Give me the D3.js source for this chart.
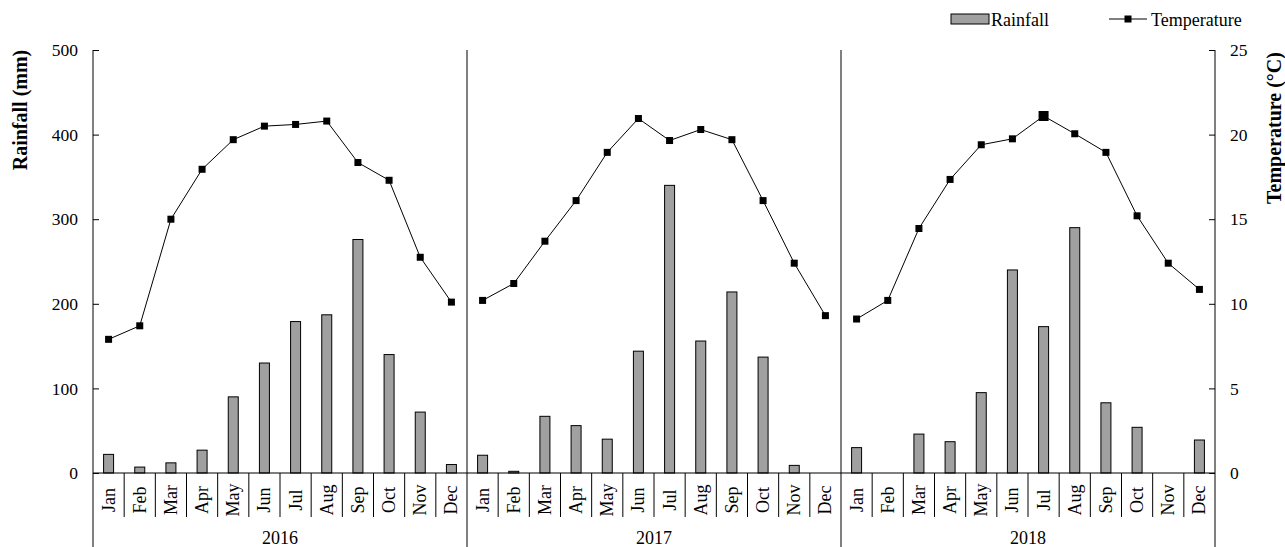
<!DOCTYPE html>
<html>
<head>
<meta charset="utf-8">
<script src="https://cdn.jsdelivr.net/npm/d3@7/dist/d3.min.js"></script>
<style>
  html, body { margin: 0; padding: 0; background: #fff; }
  svg { display: block; font-family: "Liberation Serif", "Times New Roman", serif; }
</style>
</head>
<body>
<svg id="chart" width="1285" height="547"></svg>
<script>
// ---- data ----
const years = ["2016", "2017", "2018"];
const months = ["Jan","Feb","Mar","Apr","May","Jun","Jul","Aug","Sep","Oct","Nov","Dec"];
const rain2016 = [22, 7, 12, 27, 90, 130, 179, 187, 276, 140, 72, 10];
const rain2017 = [21, 2, 67, 56, 40, 144, 340, 156, 214, 137, 9, 0];
const rain2018 = [30, 0, 46, 37, 95, 240, 173, 290, 83, 54, 0, 39];
const temp2016 = [7.9, 8.7, 15.0, 17.95, 19.7, 20.5, 20.6, 20.8, 18.35, 17.3, 12.75, 10.1];
const temp2017 = [10.2, 11.2, 13.7, 16.1, 18.95, 20.95, 19.65, 20.3, 19.7, 16.1, 12.4, 9.3];
const temp2018 = [9.1, 10.2, 14.45, 17.35, 19.4, 19.75, 21.1, 20.05, 18.95, 15.2, 12.4, 10.85];
const rainTicks = [0, 100, 200, 300, 400, 500];
const tempTicks = [0, 5, 10, 15, 20, 25];

const rainByYear = [rain2016, rain2017, rain2018];
const tempByYear = [temp2016, temp2017, temp2018];
const rows = [];
years.forEach((y, yi) => months.forEach((m, mi) => rows.push({
  key: y + "-" + m, year: y, month: m, mi: mi,
  rain: rainByYear[yi][mi], temp: tempByYear[yi][mi]
})));

// ---- layout ----
const L = 93, R = 1215, T = 50, B = 473, BOTTOM = 547;
const svg = d3.select("#chart");

const x = d3.scaleBand().domain(rows.map(d => d.key)).range([L, R]).padding(0);
const yRain = d3.scaleLinear().domain([0, 500]).range([B, T]);
const yTemp = d3.scaleLinear().domain([0, 25]).range([B, T]);
const bw = x.bandwidth();
const barW = 10;
const cx = k => x(k) + bw / 2;

// bars
svg.append("g").selectAll("rect").data(rows).join("rect")
  .attr("x", d => cx(d.key) - barW / 2)
  .attr("y", d => yRain(d.rain))
  .attr("width", barW)
  .attr("height", d => B - yRain(d.rain))
  .attr("fill", "#a0a0a0")
  .attr("stroke", "#000")
  .attr("stroke-width", 1);

// temperature lines (one per year)
const line = d3.line().x(d => cx(d.key)).y(d => yTemp(d.temp));
years.forEach(y => {
  const yr = rows.filter(d => d.year === y);
  svg.append("path").datum(yr)
    .attr("d", line).attr("fill", "none")
    .attr("stroke", "#000").attr("stroke-width", 1);
});
svg.append("g").selectAll("rect").data(rows).join("rect")
  .attr("x", d => cx(d.key) - (d.key === "2018-Jul" ? 5 : 3.5))
  .attr("y", d => yTemp(d.temp) - (d.key === "2018-Jul" ? 5 : 3.5))
  .attr("width", d => d.key === "2018-Jul" ? 10 : 7)
  .attr("height", d => d.key === "2018-Jul" ? 10 : 7)
  .attr("fill", "#000");

// axes
const axL = svg.append("g").attr("transform", `translate(${L},0)`)
  .call(d3.axisLeft(yRain).tickValues(rainTicks).tickSize(-6).tickPadding(15).tickSizeOuter(0));
const axR = svg.append("g").attr("transform", `translate(${R},0)`)
  .call(d3.axisRight(yTemp).tickValues(tempTicks).tickSize(-6).tickPadding(15).tickSizeOuter(0));
[axL, axR].forEach(a => {
  a.select(".domain").remove();
  a.selectAll("line").attr("stroke", "#000");
  a.selectAll("text").attr("font-size", 17.5).attr("fill", "#000")
    .attr("font-family", "Liberation Serif");
});

// vertical frame lines (axes + year separators) extend to bottom
const sepX = [L, x(years[1] + "-Jan"), x(years[2] + "-Jan"), R];
svg.append("g").selectAll("line").data(sepX).join("line")
  .attr("x1", d => d).attr("x2", d => d)
  .attr("y1", T).attr("y2", BOTTOM)
  .attr("stroke", "#000").attr("stroke-width", 1);

// x baseline
svg.append("line").attr("x1", L).attr("x2", R).attr("y1", B).attr("y2", B)
  .attr("stroke", "#000").attr("stroke-width", 1.2);

// month ticks (boundaries within years)
svg.append("g").selectAll("line").data(rows.filter(d => d.mi > 0)).join("line")
  .attr("x1", d => x(d.key)).attr("x2", d => x(d.key))
  .attr("y1", B).attr("y2", 517)
  .attr("stroke", "#000").attr("stroke-width", 1);

// month labels
svg.append("g").selectAll("text").data(rows).join("text")
  .attr("transform", d => `translate(${cx(d.key) + 6},500) rotate(-90)`)
  .attr("text-anchor", "middle")
  .attr("font-size", 18)
  .text(d => d.month);

// year labels
svg.append("g").selectAll("text").data(years).join("text")
  .attr("x", y => (x(y + "-Jan") + x(y + "-Dec") + bw) / 2)
  .attr("y", 544)
  .attr("text-anchor", "middle")
  .attr("font-size", 18)
  .text(y => y);

// axis titles
svg.append("text")
  .attr("transform", "translate(27,110) rotate(-90)")
  .attr("text-anchor", "middle").attr("font-size", 20).attr("font-weight", "bold")
  .text("Rainfall (mm)");
svg.append("text")
  .attr("transform", "translate(1281,128) rotate(-90)")
  .attr("text-anchor", "middle").attr("font-size", 20).attr("font-weight", "bold")
  .text("Temperature (°C)");

// legend
const lg = svg.append("g");
lg.append("rect").attr("x", 951).attr("y", 14).attr("width", 38).attr("height", 10)
  .attr("fill", "#a0a0a0").attr("stroke", "#000");
lg.append("text").attr("x", 991).attr("y", 26).attr("font-size", 18).text("Rainfall");
lg.append("line").attr("x1", 1109).attr("x2", 1147).attr("y1", 19).attr("y2", 19)
  .attr("stroke", "#000");
lg.append("rect").attr("x", 1124.5).attr("y", 15.5).attr("width", 7).attr("height", 7).attr("fill", "#000");
lg.append("text").attr("x", 1151).attr("y", 26).attr("font-size", 18).text("Temperature");
</script>
</body>
</html>
